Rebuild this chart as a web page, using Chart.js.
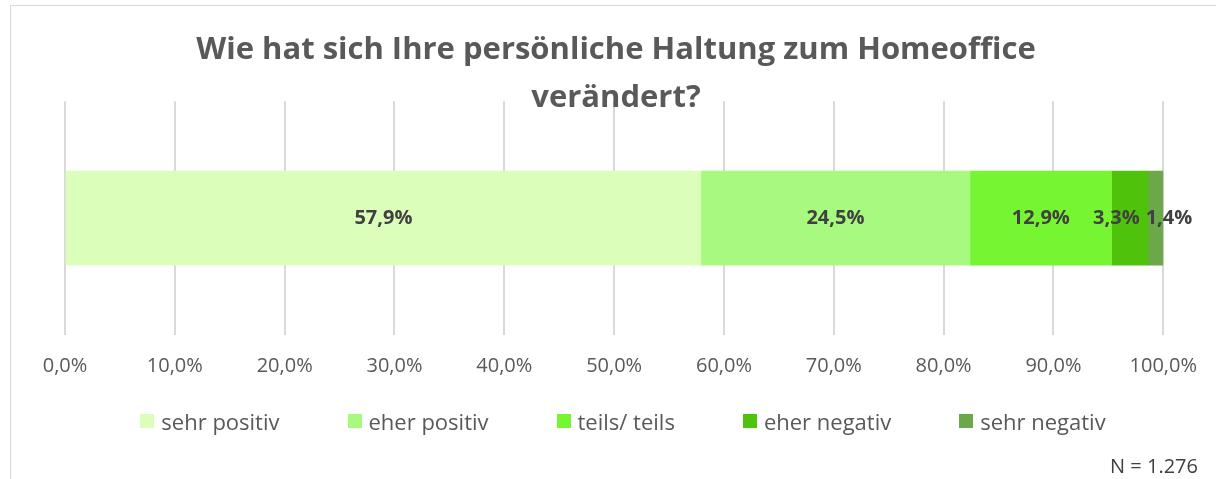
<!DOCTYPE html>
<html>
<head>
<meta charset="utf-8">
<script src="https://cdn.jsdelivr.net/npm/chart.js@4.4.0/dist/chart.umd.min.js"></script>
<style>
  html, body { margin:0; padding:0; background:#fff; }
  #wrap { position:relative; width:1216px; height:479px; overflow:hidden; font-family:'Open Sans', 'DejaVu Sans', sans-serif; }
  #frame { position:absolute; left:10px; top:5px; width:1220px; height:500px; border:1px solid #d9d9d9; box-sizing:border-box; }
  #c { position:absolute; left:0; top:0; }
  #legend { position:absolute; left:0; top:406px; width:1216px; padding-left:30px; box-sizing:border-box;
            display:flex; justify-content:center; gap:68px; font-size:22px; color:#595959; line-height:30px; }
  #legend .item { display:flex; align-items:center; white-space:nowrap; }
  #legend .box { width:14px; height:14px; margin-right:7px; }
  #note { position:absolute; right:18px; top:453px; font-size:20px; color:#404040; line-height:26px; }
</style>
</head>
<body>
<div id="wrap">
  <div id="frame"></div>
  <canvas id="c" width="1216" height="479"></canvas>
  <div id="legend"></div>
  <div id="note"></div>
</div>
<script>
// --- Daten ---
const categories = ['Haltung zum Homeoffice'];
const seriesLabels = ['sehr positiv', 'eher positiv', 'teils/ teils', 'eher negativ', 'sehr negativ'];
const seriesValues = [57.9, 24.5, 12.9, 3.3, 1.4];
const seriesColors = ['#dbffbb', '#a7f97f', '#76f532', '#4fc30b', '#6aa84a'];
const titleLines = ['Wie hat sich Ihre persönliche Haltung zum Homeoffice', 'verändert?'];
const sampleNote = 'N = 1.276';

const FONT = "'Open Sans', 'DejaVu Sans', sans-serif";
const fmtPct = (v) => v.toFixed(1).replace('.', ',') + '%';

// Werte-Labels in der Balkenmitte, überlappende Labels auseinanderschieben
const barLabels = {
  id: 'barLabels',
  afterDatasetsDraw(chart){
    const ctx = chart.ctx;
    ctx.save();
    ctx.font = `bold 20px ${FONT}`;
    ctx.fillStyle = '#404040';
    ctx.textBaseline = 'middle';
    ctx.textAlign = 'center';
    const items = chart.data.datasets.map((ds, i) => {
      const el = chart.getDatasetMeta(i).data[0];
      const txt = fmtPct(ds.data[0]);
      return { txt, x: (el.x + el.base) / 2, y: el.y, w: ctx.measureText(txt).width };
    });
    for(let i=1;i<items.length;i++){
      const a = items[i-1], b = items[i];
      const overlap = (a.x + a.w/2 + 6) - (b.x - b.w/2);
      if(overlap > 0){ a.x -= overlap/2; b.x += overlap/2; }
    }
    items.forEach(it => ctx.fillText(it.txt, it.x, it.y));
    ctx.restore();
  }
};

const chart = new Chart(document.getElementById('c'), {
  type: 'bar',
  data: {
    labels: categories,
    datasets: seriesLabels.map((lbl, i) => ({
      label: lbl,
      data: [seriesValues[i]],
      backgroundColor: seriesColors[i],
      borderWidth: 0,
      barThickness: 94
    }))
  },
  options: {
    indexAxis: 'y',
    responsive: false,
    animation: false,
    layout: { padding: { left: 65, right: 49, top: 0, bottom: 82 } },
    plugins: {
      title: {
        display: true,
        text: titleLines,
        color: '#595959',
        font: { family: FONT, size: 31, weight: 'bold', lineHeight: 1.52 },
        padding: { top: 27, bottom: -20 }
      },
      legend: { display: false },
      tooltip: { enabled: false }
    },
    scales: {
      x: {
        stacked: true,
        min: 0, max: 100,
        ticks: {
          stepSize: 10,
          color: '#595959',
          font: { family: FONT, size: 20 },
          padding: 19,
          callback: (v) => fmtPct(v)
        },
        grid: { color: '#d9d9d9', lineWidth: 2, drawTicks: false },
        border: { display: false }
      },
      y: {
        stacked: true,
        display: false
      }
    }
  },
  plugins: [barLabels]
});

// Legende als HTML aus denselben Arrays
const legendEl = document.getElementById('legend');
seriesLabels.forEach((lbl, i) => {
  const item = document.createElement('div');
  item.className = 'item';
  item.innerHTML = `<span class="box" style="background:${seriesColors[i]}"></span><span>${lbl}</span>`;
  legendEl.appendChild(item);
});
document.getElementById('note').textContent = sampleNote;
</script>
</body>
</html>
